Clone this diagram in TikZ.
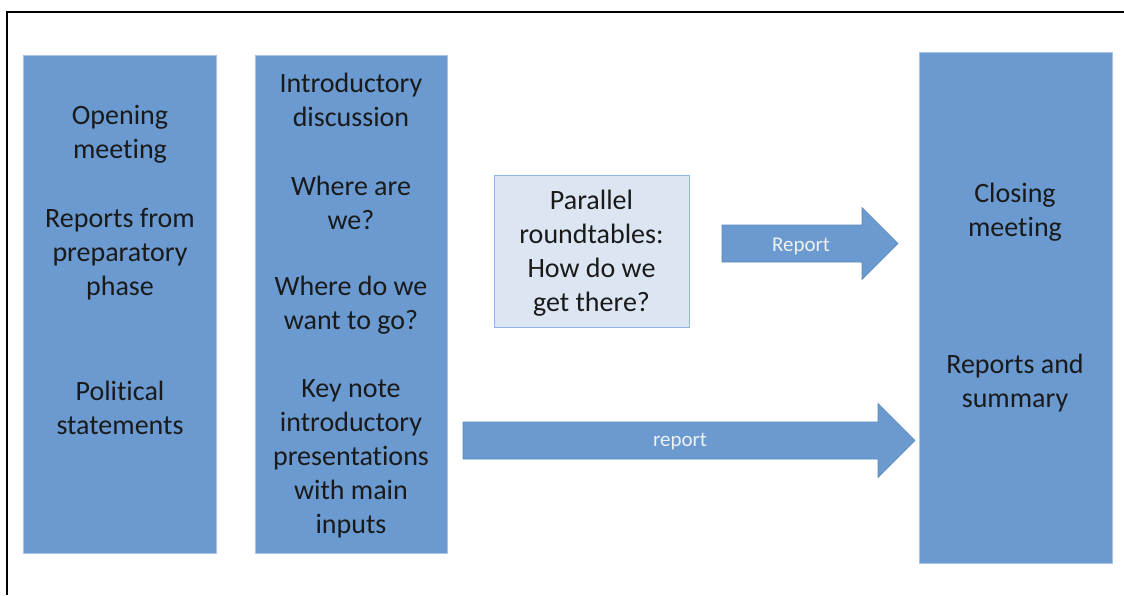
\documentclass[tikz,border=0pt]{standalone}
\usepackage{fontspec}
\setmainfont[Ligatures=NoCommon]{Carlito}
\usepackage{tikz}
\usetikzlibrary{calc}

\definecolor{boxblue}{HTML}{6A9AD0}
\definecolor{boxedge}{HTML}{A9C4E6}
\definecolor{paleblue}{HTML}{DCE6F2}
\definecolor{paleedge}{HTML}{8EB4E3}
\definecolor{arrowedge}{HTML}{5B87BD}
\definecolor{ink}{HTML}{1A1A1A}

\begin{document}
\begin{tikzpicture}[
    x=1pt, y=-1pt,
    column/.style={rectangle, draw=boxedge, fill=boxblue, anchor=north west, line width=0.6pt},
    roundbox/.style={rectangle, draw=paleedge, fill=paleblue, line width=1pt, text=ink, align=center,
        font=\fontsize{28}{34}\selectfont, minimum width=195pt, minimum height=152pt, inner sep=0pt},
    txt/.style={align=center, text=ink, font=\fontsize{28}{34}\selectfont, inner sep=0pt},
    arrowbody/.style={fill=boxblue, draw=arrowedge, line width=0.6pt},
    arrowlabel/.style={text=white!94!black, font=\fontsize{21}{24}\selectfont, inner sep=0pt}
]
    \useasboundingbox (0,0) rectangle (1124,595);
    \draw[line width=1.6pt] (7,595) -- (7,12) -- (1124,12);

    % columns
    \node[column, minimum width=193pt, minimum height=498pt] (col1) at (23,55) {};
    \node[column, minimum width=192pt, minimum height=498pt] (col2) at (255,55) {};
    \node[column, minimum width=193pt, minimum height=511pt] (close) at (919,52) {};
    \node[roundbox] (round) at (591.5,251) {};
    \node[txt] (roundtext) at (591.5,253) {Parallel\\roundtables:\\How do we\\get there?};

    % texts of the first column
    \node[txt] (opening) at (120,134) {Opening\\meeting};
    \node[txt] (prep) at (120,254) {Reports from\\preparatory\\phase};
    \node[txt] (political) at (120,408) {Political\\statements};

    % texts of the second column
    \node[txt] (intro) at (351,100) {Introductory\\discussion};
    \node[txt] (where) at (351,203) {Where are\\we?};
    \node[txt] (goal) at (351,305) {Where do we\\want to go?};
    \node[txt] (keynote) at (351,459) {Key note\\introductory\\presentations\\with main\\inputs};

    % texts of the last column
    \node[txt] (closing) at (1015,212) {Closing\\meeting};
    \node[txt] (summary) at (1015,383) {Reports and\\summary};

    % block arrows
    \coordinate (a1) at (722,243.5);
    \coordinate (a1tip) at (898,243.5);
    \coordinate (a2) at (463,440.5);
    \coordinate (a2tip) at (915,440.5);

    \draw[arrowbody] let \p1=(a1), \p2=(a1tip) in
        (\x1,\y1+18.5pt) -- (\x2-36pt,\y1+18.5pt) -- (\x2-36pt,\y1+36pt) -- (\x2,\y2)
        -- (\x2-36pt,\y1-36pt) -- (\x2-36pt,\y1-18.5pt) -- (\x1,\y1-18.5pt) -- cycle;
    \draw[arrowbody] let \p1=(a2), \p2=(a2tip) in
        (\x1,\y1+18.5pt) -- (\x2-37pt,\y1+18.5pt) -- (\x2-37pt,\y1+37pt) -- (\x2,\y2)
        -- (\x2-37pt,\y1-37pt) -- (\x2-37pt,\y1-18.5pt) -- (\x1,\y1-18.5pt) -- cycle;

    \node[arrowlabel] (rep1) at (801,246) {Report};
    \node[arrowlabel] (rep2) at (680,442) {report};
\end{tikzpicture}
\end{document}
